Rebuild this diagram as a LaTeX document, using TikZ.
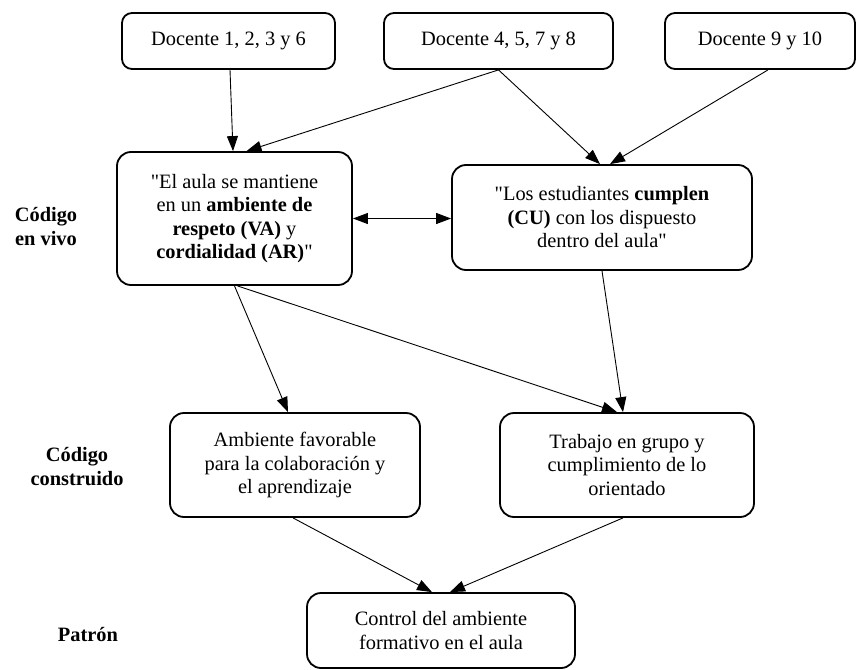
\documentclass[tikz,border=0pt]{standalone}
\usepackage{fontspec}
\setmainfont{Liberation Serif}[BoldFont={Liberation Serif Bold}, Ligatures=TeXOff]
\usetikzlibrary{arrows.meta}
\begin{document}
\begin{tikzpicture}[x=1pt,y=-1pt,
  box/.style={draw, line width=1.8pt, rounded corners=14pt, align=center, inner sep=0pt, font=\fontsize{20.4}{23.5}\selectfont},
  topbox/.style={box, rounded corners=10pt, minimum height=56pt},
  arr/.style={line width=0.9pt, -{Triangle[length=15pt,width=11pt]}},
  dbl/.style={line width=0.9pt, {Triangle[length=15pt,width=11pt]}-{Triangle[length=15pt,width=11pt]}},
  lab/.style={font=\bfseries\fontsize{20.4}{24}\selectfont, align=center}]
\useasboundingbox (0,0) rectangle (864,669);

\node[topbox, minimum width=213pt] (b1) at (228.5,41) {Docente 1, 2, 3 y 6};
\node[topbox, minimum width=229pt] (b2) at (498.5,41) {Docente 4, 5, 7 y 8};
\node[topbox, minimum width=190pt] (b3) at (760,41) {Docente 9 y 10};

\node[box, minimum width=235pt, minimum height=133pt] (m1) at (234.5,218.5) {"El aula se mantiene\\en un \textbf{ambiente de}\\\textbf{respeto (VA)} y\\\textbf{cordialidad (AR)}"};
\node[box, minimum width=300pt, minimum height=105pt] (m2) at (602,217.5) {"Los estudiantes \textbf{cumplen}\\\textbf{(CU)} con los dispuesto\\dentro del aula"};

\node[box, minimum width=250pt, minimum height=104pt] (l1) at (295,465) {Ambiente favorable\\para la colaboración y\\el aprendizaje};
\node[box, minimum width=254pt, minimum height=104pt] (l2) at (627,465) {Trabajo en grupo y\\cumplimiento de lo\\orientado};

\node[box, minimum width=268pt, minimum height=75pt] (p) at (441,630.5) {Control del ambiente\\formativo en el aula};

\node[lab] (c1) at (46,227) {Código\\en vivo};
\node[lab] (c2) at (77,467) {Código\\construido};
\node[lab] (c3) at (88,635) {Patrón};

\draw[arr] ([xshift=1.5pt]b1.south) -- ([xshift=-1.5pt]m1.north);
\draw[arr] (b2.south) -- ([xshift=12pt]m1.north);
\draw[arr] (b2.south) -- ([xshift=-2pt]m2.north);
\draw[arr] ([xshift=8pt]b3.south) -- ([xshift=8pt]m2.north);
\draw[dbl] (m1.east) -- (m1.east -| m2.west);
\draw[arr] (m1.south) -- ([xshift=-7pt]l1.north);
\draw[arr] ([xshift=3pt]m1.south) -- ([xshift=-10pt]l2.north);
\draw[arr] (m2.south) -- ([xshift=-4pt]l2.north);
\draw[arr] ([xshift=-2pt]l1.south) -- ([xshift=-9pt]p.north);
\draw[arr] ([xshift=-4pt]l2.south) -- ([xshift=9pt]p.north);
\end{tikzpicture}
\end{document}
